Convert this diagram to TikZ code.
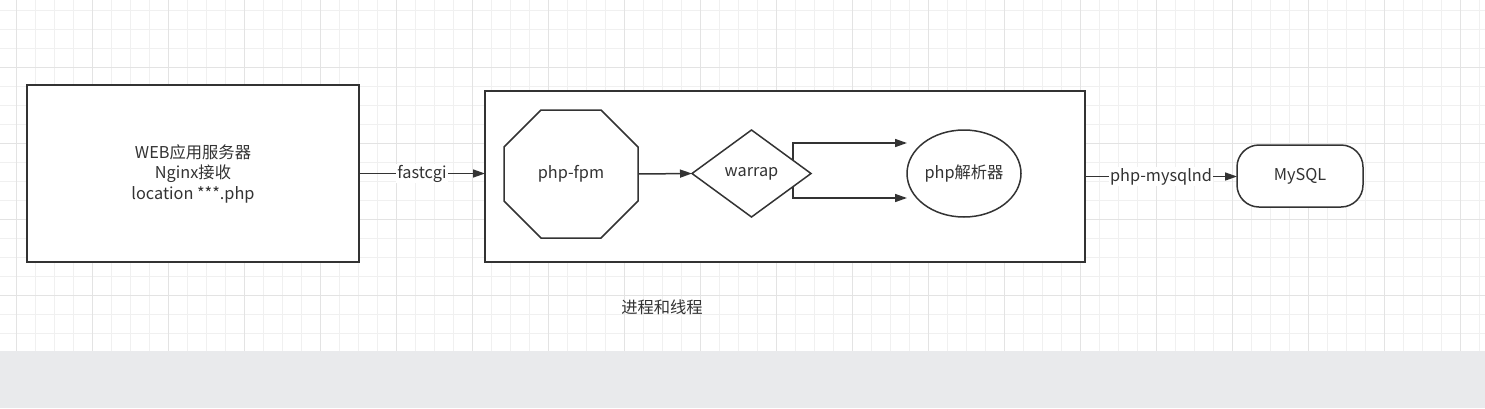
\documentclass[tikz,border=0pt]{standalone}
\usepackage{fontspec}
\setmainfont{Noto Sans CJK SC}
\usetikzlibrary{arrows.meta,shapes.geometric,calc}
\definecolor{ink}{HTML}{333333}
\definecolor{minorgrid}{HTML}{F0F0F0}
\definecolor{majorgrid}{HTML}{E3E3E3}
\definecolor{bottomgray}{HTML}{E9EAEC}
\tikzset{
  txt/.style={text=ink, font=\fontsize{16.3}{20.5}\selectfont},
  shp/.style={draw=ink, line width=1.5pt, fill=white, inner sep=0pt, outer sep=0pt, txt, align=center},
  arr/.style={draw=ink, line width=1.5pt, -{Triangle[length=12pt,width=8pt]}},
  lbl/.style={fill=white, inner sep=1pt, txt},
}
\begin{document}
\begin{tikzpicture}[x=1pt,y=-1pt]
\useasboundingbox (0,0) rectangle (1485,408);
\fill[white] (0,0) rectangle (1485,351);
\fill[bottomgray] (0,351) rectangle (1485,408);
% grid
\foreach \i in {0,...,78} {\draw[minorgrid, line width=1pt] (-2.3+19*\i,0) -- (-2.3+19*\i,351);}
\foreach \j in {0,...,17} {\draw[minorgrid, line width=1pt] (0,10+19*\j) -- (1485,10+19*\j);}
\foreach \i in {0,...,19} {\draw[majorgrid, line width=1pt] (16.7+76*\i,0) -- (16.7+76*\i,351);}
\foreach \j in {0,...,3} {\draw[majorgrid, line width=1pt] (0,67+76*\j) -- (1485,67+76*\j);}

% nodes
\node[shp, minimum width=332pt, minimum height=177pt] (web) at (193,173.5) {WEB应用服务器\\Nginx接收\\location ***.php};
\node[shp, minimum width=600pt, minimum height=171pt] (pp) at (785,176.5) {};
\node[inner sep=0pt, outer sep=0pt, minimum width=134pt, minimum height=128pt, txt] (fpm) at (571,174) {};
\draw[draw=ink, line width=1.5pt, fill=white, line join=miter]
  ([xshift=37pt]fpm.north west) -- ([xshift=-37pt]fpm.north east) -- ([yshift=-37pt]fpm.north east)
  -- ([yshift=37pt]fpm.south east) -- ([xshift=-37pt]fpm.south east) -- ([xshift=37pt]fpm.south west)
  -- ([yshift=37pt]fpm.south west) -- ([yshift=-37pt]fpm.north west) -- cycle;
\node[txt] at (fpm.center) {php-fpm};
\node[shp, diamond, minimum width=119pt, minimum height=87pt] (warrap) at (751.5,173.5) {warrap};
\node[shp, ellipse, minimum width=114pt, minimum height=87pt] (parser) at (964,173.5) {php解析器};
\node[shp, rounded corners=22pt, minimum width=126pt, minimum height=62pt] (mysql) at (1300,176) {MySQL};
\node[txt] (cap) at (662,307) {进程和线程};

% connectors
\draw[arr] (web.east) -- node[lbl] {fastcgi} (web.east -| pp.west);
\draw[arr] (fpm.east) -- (warrap.west);
\draw[arr] ($(warrap.center)+(41.5,-13.2)$) |- ([yshift=30.5pt]parser.west);
\draw[arr] ($(warrap.center)+(41.5,13.2)$) |- ([yshift=-24.5pt]parser.west);
\draw[arr] (pp.east) -- node[lbl] {php-mysqlnd} (pp.east -| mysql.west);
\end{tikzpicture}
\end{document}
